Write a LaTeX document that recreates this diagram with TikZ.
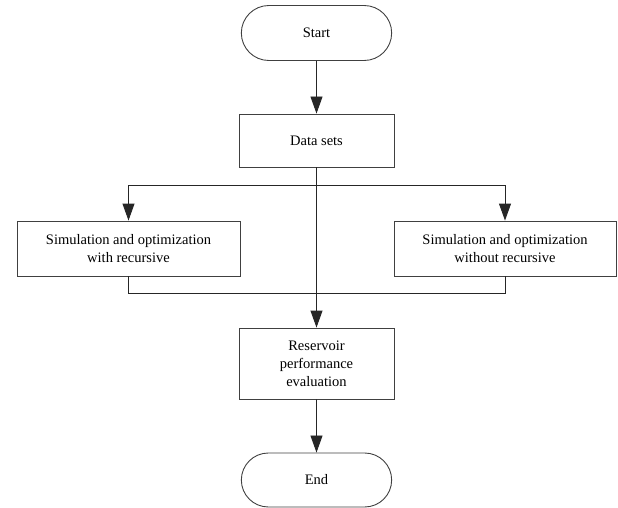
\documentclass[tikz,border=0pt]{standalone}
\usepackage{fontspec}
\setmainfont{Liberation Serif}
\usetikzlibrary{arrows.meta,shapes.misc}
\begin{document}
\begin{tikzpicture}[x=1pt,y=-1pt,
  box/.style={draw=black!75,line width=0.9pt,rectangle,minimum width=155pt,align=center,font=\fontsize{14.5}{18}\selectfont,inner sep=0pt},
  term/.style={draw=black!75,line width=0.9pt,rounded rectangle,minimum width=157pt,minimum height=55pt,font=\fontsize{14.5}{18}\selectfont},
  conn/.style={draw=black!85,line width=0.9pt},
  arr/.style={conn,-{Triangle[width=12pt,length=17pt]}}]
\useasboundingbox (0,0) rectangle (618,508);
\node[term] (start) at (316.5,33) {Start};
\node[box,minimum height=53pt] (data) at (316.5,140.5) {Data sets};
\node[box,minimum width=223pt,minimum height=55pt] (left) at (128.5,248.5) {Simulation and optimization\\with recursive};
\node[box,minimum width=222pt,minimum height=55pt] (right) at (505,248.5) {Simulation and optimization\\without recursive};
\node[box,minimum height=71pt] (res) at (316.5,363.5) {Reservoir\\performance\\evaluation};
\node[term,minimum height=54pt] (end) at (316.5,480) {End};
\coordinate (sl) at (128.5,185);
\coordinate (sr) at (505,185);
\coordinate (jl) at (128.5,293);
\coordinate (jr) at (505,293);
\draw[arr] (start) -- (data);
\draw[arr] (data) -- (res);
\draw[conn] (sl) -- (sr);
\draw[arr] (sl) -- (left);
\draw[arr] (sr) -- (right);
\draw[conn] (left) -- (jl) -- (jr) -- (right);
\draw[arr] (res) -- (end);
\end{tikzpicture}
\end{document}
